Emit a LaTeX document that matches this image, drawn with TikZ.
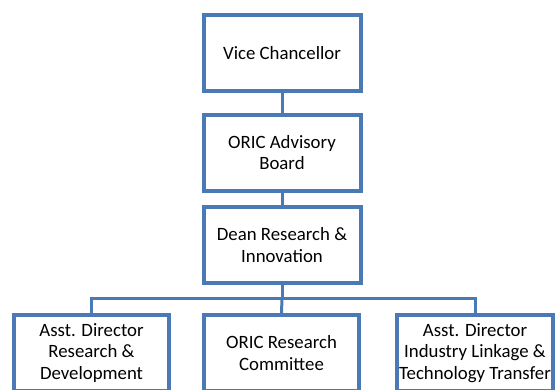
\documentclass[tikz,border=0pt]{standalone}
\usepackage{fontspec}
\setmainfont{Carlito}
\definecolor{boxblue}{RGB}{74,122,182}
\begin{document}
\begin{tikzpicture}[x=1pt,y=-1pt,
  orgbox/.style={draw=boxblue, line width=4pt, fill=white, rectangle,
    minimum width=157pt, minimum height=76pt, inner sep=0pt, align=center,
    font=\fontsize{18.8}{21.3}\selectfont},
  link/.style={draw=boxblue, line width=3pt}]
\useasboundingbox (0,0) rectangle (556,389);
\node[orgbox] (vc) at (282,53) {Vice Chancellor};
\node[orgbox] (adv) at (282,152.5) {ORIC Advisory\\Board};
\node[orgbox] (dean) at (282,245) {Dean Research \&\\Innovation};
\node[orgbox, minimum width=155pt] (rd) at (91.5,353) {Asst. Director\\Research \&\\Development};
\node[orgbox, minimum width=155pt] (rc) at (281.5,353) {ORIC Research\\Committee};
\node[orgbox, minimum width=156pt] (il) at (475,353) {Asst. Director\\Industry Linkage \&\\Technology Transfer};
\coordinate (bus) at (282,298);
\draw[link] (vc) -- (adv);
\draw[link] (adv) -- (dean);
\draw[link] (dean.south) -- (bus);
\draw[link] (bus) -- (rc.north);
\draw[link] (rd.north) |- (bus);
\draw[link] (il.north) |- (bus);
\end{tikzpicture}
\end{document}
